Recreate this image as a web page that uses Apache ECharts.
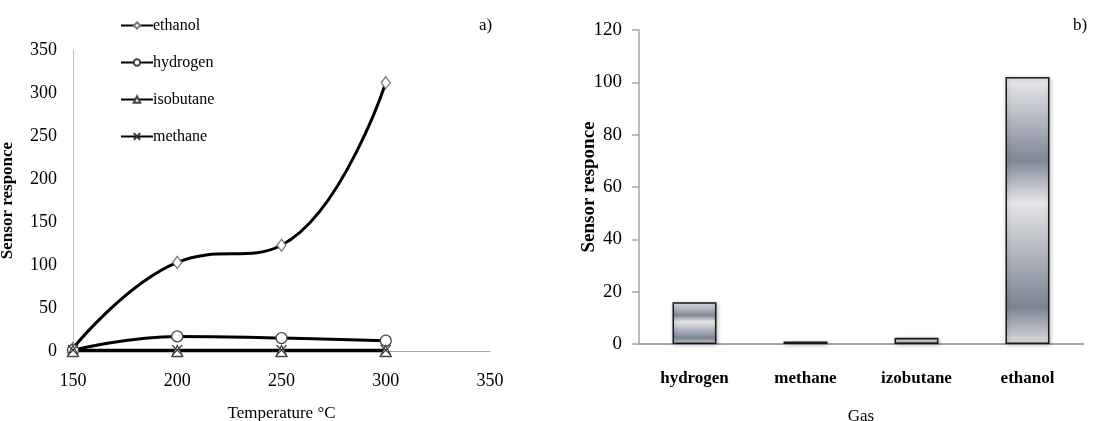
<!DOCTYPE html>
<html>
<head>
<meta charset="utf-8">
<script src="https://cdn.jsdelivr.net/npm/echarts@6/dist/echarts.min.js"></script>
<style>
	html, body { margin: 0; padding: 0; background: #fff; }
	#chart { width: 1102px; height: 421px; }
</style>
</head>
<body>
<div id="chart"></div>
<script>
// a) response vs temperature
var temps = [150, 200, 250, 300];
var ethanol = [3, 103, 123, 312];
var hydrogen = [1, 17, 15, 12];
var isobutane = [0, 0, 0, 0];
var methane = [1, 1, 1, 1];
var xTicks = [150, 200, 250, 300, 350];
var yTicksA = [0, 50, 100, 150, 200, 250, 300, 350];

// b) response per gas
var gases = ['hydrogen', 'methane', 'izobutane', 'ethanol'];
var gasResp = [16, 1, 2.4, 102];
var yTicksB = [0, 20, 40, 60, 80, 100, 120];

var FONT = 'Liberation Serif';
var AXIS_GREY = '#a6a6a6';

function pairs(xs, ys) {
	var out = [];
	for (var i = 0; i < xs.length; i++) out.push([xs[i], ys[i]]);
	return out;
}

function lineSeries(name, values, symbol, size, border) {
	return {
		name: name,
		type: 'line',
		xAxisIndex: 0,
		yAxisIndex: 0,
		smooth: 0.45,
		data: pairs(temps, values),
		symbol: symbol,
		symbolSize: size,
		lineStyle: { color: '#000', width: 3 },
		itemStyle: { color: '#fff', borderColor: border, borderWidth: 1.3 },
		z: 3
	};
}

// metallic gradient like the original bars
var barFill = new echarts.graphic.LinearGradient(0, 0, 0, 1, [
	{ offset: 0, color: '#ececee' },
	{ offset: 0.31, color: '#7f8798' },
	{ offset: 0.47, color: '#e6e6e8' },
	{ offset: 0.86, color: '#7b8394' },
	{ offset: 1, color: '#dcdce0' }
]);

var chart = echarts.init(document.getElementById('chart'));
var option = {
	animation: false,
	textStyle: { fontFamily: FONT, color: '#000' },
	title: [
		{ text: 'a)', left: 474, top: 12, textStyle: { fontFamily: FONT, fontSize: 17, fontWeight: 'normal', color: '#000' } },
		{ text: 'b)', left: 1068, top: 12, textStyle: { fontFamily: FONT, fontSize: 17, fontWeight: 'normal', color: '#000' } }
	],
	legend: {
		orient: 'vertical',
		left: 115,
		top: 12,
		itemWidth: 32,
		itemHeight: 8,
		itemGap: 20,
		data: ['ethanol', 'hydrogen', 'isobutane', 'methane'],
		textStyle: { fontFamily: FONT, fontSize: 16, color: '#000', lineHeight: 17, padding: [0, 0, 0, -5] }
	},
	grid: [
		{ left: 73, top: 50, width: 417, height: 301, outerBoundsMode: 'none' },
		{ left: 639, top: 30, width: 444, height: 314, outerBoundsMode: 'none' }
	],
	xAxis: [{
		gridIndex: 0,
		type: 'value',
		min: xTicks[0],
		max: xTicks[xTicks.length - 1],
		interval: 50,
		name: 'Temperature °C',
		nameLocation: 'middle',
		nameGap: 54,
		nameTextStyle: { fontFamily: FONT, fontSize: 17, color: '#000' },
		axisLine: { lineStyle: { color: AXIS_GREY, width: 1 } },
		axisTick: { show: false },
		splitLine: { show: false },
		axisLabel: { fontFamily: FONT, fontSize: 18, color: '#000', margin: 21 }
	}, {
		gridIndex: 1,
		type: 'category',
		data: gases,
		name: 'Gas',
		nameLocation: 'middle',
		nameGap: 64,
		nameTextStyle: { fontFamily: FONT, fontSize: 17, color: '#000' },
		axisLine: { lineStyle: { color: AXIS_GREY, width: 2 } },
		axisTick: { show: false },
		axisLabel: { fontFamily: FONT, fontSize: 17, fontWeight: 'bold', color: '#000', margin: 26 }
	}],
	yAxis: [{
		gridIndex: 0,
		type: 'value',
		min: yTicksA[0],
		max: yTicksA[yTicksA.length - 1],
		interval: 50,
		name: 'Sensor responce',
		nameLocation: 'middle',
		nameGap: 57,
		nameMoveOverlap: false,
		nameTextStyle: { fontFamily: FONT, fontSize: 17, fontWeight: 'bold', color: '#000' },
		axisLine: { show: true, lineStyle: { color: '#c0c0c0', width: 1 } },
		axisTick: { show: false },
		splitLine: { show: false },
		axisLabel: { fontFamily: FONT, fontSize: 18, color: '#000', margin: 16 }
	}, {
		gridIndex: 1,
		type: 'value',
		min: yTicksB[0],
		max: yTicksB[yTicksB.length - 1],
		interval: 20,
		name: 'Sensor responce',
		nameLocation: 'middle',
		nameGap: 40,
		nameMoveOverlap: false,
		nameTextStyle: { fontFamily: FONT, fontSize: 19, fontWeight: 'bold', color: '#000' },
		axisLine: { show: true, lineStyle: { color: AXIS_GREY, width: 1.5 } },
		axisTick: { show: true, length: 7, lineStyle: { color: AXIS_GREY, width: 1.5 } },
		splitLine: { show: false },
		axisLabel: { fontFamily: FONT, fontSize: 19, color: '#000', margin: 17 }
	}],
	series: [
		lineSeries('ethanol', ethanol, 'diamond', [9, 12], '#777'),
		lineSeries('hydrogen', hydrogen, 'circle', 11, '#444'),
		lineSeries('isobutane', isobutane, 'triangle', 11, '#444'),
		lineSeries('methane', methane, 'path://M0,0L10,10M10,0L0,10', 10, '#333'),
		{
			name: 'Gas',
			type: 'bar',
			xAxisIndex: 1,
			yAxisIndex: 1,
			barWidth: 44,
			data: gasResp,
			itemStyle: {
				color: barFill,
				borderColor: '#1a1a1a',
				borderWidth: 1.5,
				shadowBlur: 4,
				shadowColor: 'rgba(0,0,0,0.25)',
				shadowOffsetX: 1,
				shadowOffsetY: 1
			}
		}
	]
};
chart.setOption(option);
</script>
</body>
</html>
